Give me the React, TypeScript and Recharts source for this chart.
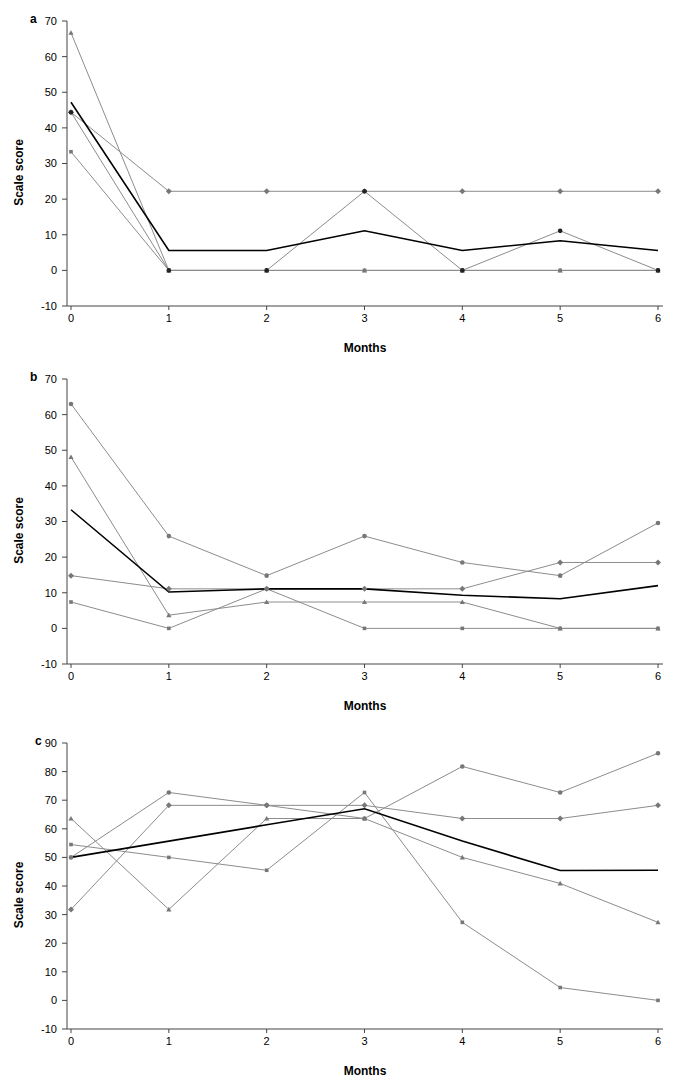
import { LineChart, Line, XAxis, YAxis, Label } from 'recharts';

const months = [0, 1, 2, 3, 4, 5, 6];

// panel a
const aTriangle = [66.7, 0, 0, 0, 0, 0, 0];
const aDiamond = [44.4, 22.2, 22.2, 22.2, 22.2, 22.2, 22.2];
const aCircle = [44.4, 0, 0, 22.2, 0, 11.1, 0];
const aSquare = [33.3, 0, 0, 0, 0, 0, 0];
const aMean = [47.2, 5.6, 5.6, 11.1, 5.6, 8.3, 5.6];
const aTicks = [-10, 0, 10, 20, 30, 40, 50, 60, 70];

// panel b
const bCircle = [63.0, 25.9, 14.8, 25.9, 18.5, 14.8, 29.6];
const bTriangle = [48.1, 3.7, 7.4, 7.4, 7.4, 0, 0];
const bDiamond = [14.8, 11.1, 11.1, 11.1, 11.1, 18.5, 18.5];
const bSquare = [7.4, 0, 11.1, 0, 0, 0, 0];
const bMean = [33.3, 10.2, 11.1, 11.1, 9.3, 8.3, 12.0];
const bTicks = [-10, 0, 10, 20, 30, 40, 50, 60, 70];

// panel c
const cTriangle = [63.6, 31.8, 63.6, 63.6, 50.0, 40.9, 27.3];
const cSquare = [54.5, 50.0, 45.5, 72.7, 27.3, 4.5, 0];
const cCircle = [50.0, 72.7, 68.2, 63.6, 81.8, 72.7, 86.4];
const cDiamond = [31.8, 68.2, 68.2, 68.2, 63.6, 63.6, 68.2];
const cMean = [50.0, 55.7, 61.4, 67.0, 55.7, 45.4, 45.5];
const cTicks = [-10, 0, 10, 20, 30, 40, 50, 60, 70, 80, 90];

const FONT = '"Liberation Sans", Arial, sans-serif';
const LINE_GRAY = '#8c8c8c';
const MARK_GRAY = '#777';

type Shape = 'circle' | 'diamond' | 'triangle' | 'square';

const makeDot = (shape: Shape, fill: string) => (props: any) => {
  const { cx, cy, index } = props;
  const k = `${shape}-${index}`;
  if (cx == null || cy == null) return <g key={k} />;
  if (shape === 'circle') return <circle key={k} cx={cx} cy={cy} r={2.3} fill={fill} />;
  if (shape === 'diamond')
    return (
      <polygon
        key={k}
        points={`${cx},${cy - 3} ${cx + 3},${cy} ${cx},${cy + 3} ${cx - 3},${cy}`}
        fill={fill}
      />
    );
  if (shape === 'triangle')
    return (
      <polygon
        key={k}
        points={`${cx},${cy - 2.6} ${cx + 2.6},${cy + 2} ${cx - 2.6},${cy + 2}`}
        fill={fill}
      />
    );
  return <rect key={k} x={cx - 1.8} y={cy - 1.8} width={3.6} height={3.6} fill={fill} />;
};

interface Series {
  values: number[];
  shape: Shape;
  dotFill: string;
}

interface PanelProps {
  letter: string;
  top: number;
  height: number;
  series: Series[];
  mean: number[];
  ticks: number[];
}

function Panel({ letter, top, height, series, mean, ticks }: PanelProps) {
  const data = months.map((m, i) => {
    const row: Record<string, number> = { month: m, mean: mean[i] };
    series.forEach((s, j) => {
      row[`s${j}`] = s.values[i];
    });
    return row;
  });

  return (
    <div style={{ position: 'absolute', left: 0, top, width: 685, height }}>
      <div
        style={{
          position: 'absolute',
          left: letter === 'c' ? 35 : 30,
          top: 12,
          fontFamily: FONT,
          fontWeight: 'bold',
          fontSize: 12,
        }}
      >
        {letter}
      </div>
      <LineChart
        width={685}
        height={height}
        data={data}
        margin={{ top: 21, right: 22, bottom: 0, left: 0 }}
        style={{ fontFamily: FONT }}
      >
        <XAxis
          dataKey="month"
          type="number"
          domain={[0, 6]}
          ticks={months}
          padding={{ left: 4, right: 5 }}
          height={54}
          tickSize={4}
          tickMargin={4}
          stroke="#444"
          tick={{ fill: '#000', fontSize: 11 }}
        >
          <Label
            content={(p: any) => {
              const vb = p.viewBox;
              return (
                <text
                  x={vb.x + vb.width / 2}
                  y={vb.y + 46}
                  textAnchor="middle"
                  fontSize={12}
                  fontWeight="bold"
                  fill="#000"
                  fontFamily={FONT}
                >
                  Months
                </text>
              );
            }}
          />
        </XAxis>
        <YAxis
          type="number"
          domain={[ticks[0], ticks[ticks.length - 1]]}
          ticks={ticks}
          width={67}
          tickSize={5}
          tickMargin={5}
          stroke="#444"
          tick={{ fill: '#000', fontSize: 11 }}
          interval={0}
        >
          <Label
            content={(p: any) => {
              const vb = p.viewBox;
              const cy = vb.y + vb.height / 2 + 9;
              return (
                <text
                  x={19}
                  y={cy}
                  transform={`rotate(-90, 19, ${cy})`}
                  textAnchor="middle"
                  dominantBaseline="central"
                  fontSize={12}
                  fontWeight="bold"
                  fill="#000"
                  fontFamily={FONT}
                >
                  Scale score
                </text>
              );
            }}
          />
        </YAxis>
        {series.map((s, j) => (
          <Line
            key={j}
            dataKey={`s${j}`}
            stroke={LINE_GRAY}
            strokeWidth={1}
            dot={makeDot(s.shape, s.dotFill)}
            activeDot={false}
            isAnimationActive={false}
          />
        ))}
        <Line
          dataKey="mean"
          stroke="#000"
          strokeWidth={1.6}
          dot={false}
          activeDot={false}
          isAnimationActive={false}
        />
      </LineChart>
    </div>
  );
}

export default function App() {
  return (
    <div style={{ position: 'absolute', left: 0, top: 0, width: 685, height: 1091, background: '#fff' }}>
      <Panel
        letter="a"
        top={0}
        height={360}
        ticks={aTicks}
        mean={aMean}
        series={[
          { values: aTriangle, shape: 'triangle', dotFill: MARK_GRAY },
          { values: aDiamond, shape: 'diamond', dotFill: MARK_GRAY },
          { values: aSquare, shape: 'square', dotFill: MARK_GRAY },
          { values: aCircle, shape: 'circle', dotFill: '#222' },
        ]}
      />
      <Panel
        letter="b"
        top={358}
        height={360}
        ticks={bTicks}
        mean={bMean}
        series={[
          { values: bCircle, shape: 'circle', dotFill: MARK_GRAY },
          { values: bTriangle, shape: 'triangle', dotFill: MARK_GRAY },
          { values: bDiamond, shape: 'diamond', dotFill: MARK_GRAY },
          { values: bSquare, shape: 'square', dotFill: MARK_GRAY },
        ]}
      />
      <Panel
        letter="c"
        top={722}
        height={361}
        ticks={cTicks}
        mean={cMean}
        series={[
          { values: cTriangle, shape: 'triangle', dotFill: MARK_GRAY },
          { values: cSquare, shape: 'square', dotFill: MARK_GRAY },
          { values: cCircle, shape: 'circle', dotFill: MARK_GRAY },
          { values: cDiamond, shape: 'diamond', dotFill: MARK_GRAY },
        ]}
      />
    </div>
  );
}
